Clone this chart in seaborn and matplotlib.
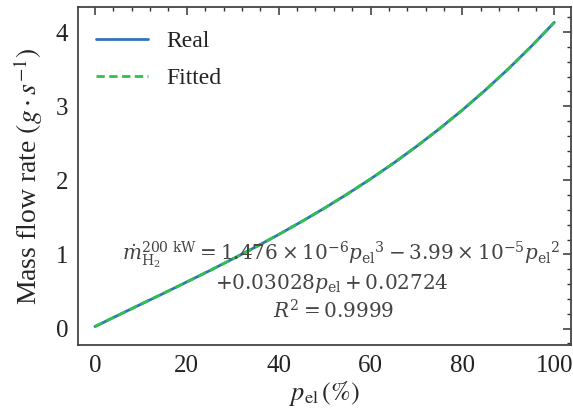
import numpy as np
import pandas as pd
import matplotlib
matplotlib.use("Agg")
import matplotlib.pyplot as plt
import seaborn as sns
from matplotlib.ticker import MultipleLocator

# Data
p_el = [0, 5, 10, 15, 20, 25, 30, 35, 40, 45, 50, 55, 60, 65, 70, 75, 80, 85, 90, 95, 100]
real = [0.027, 0.178, 0.328, 0.477, 0.629, 0.782, 0.940, 1.101, 1.269, 1.444, 1.626,
        1.818, 2.019, 2.232, 2.458, 2.697, 2.950, 3.219, 3.505, 3.809, 4.132]
fitted = [0.027, 0.178, 0.328, 0.477, 0.629, 0.782, 0.940, 1.101, 1.269, 1.444, 1.626,
          1.818, 2.019, 2.232, 2.458, 2.697, 2.950, 3.219, 3.505, 3.809, 4.132]

sns.set_theme(style="white")
plt.rcParams['font.family'] = ['Liberation Serif', 'DejaVu Serif']
plt.rcParams['mathtext.fontset'] = 'stix'

fig = plt.figure(figsize=(5.73, 4.12), dpi=100)
ax = fig.add_axes([0.136, 0.163, 0.861, 0.820])

df = pd.DataFrame({"p": p_el * 2, "v": real + fitted,
                   "s": ["Real"] * len(p_el) + ["Fitted"] * len(p_el)})
sns.lineplot(data=df[df.s == "Real"], x="p", y="v", ax=ax, color="#3274b8",
             lw=2.0, label="Real")
sns.lineplot(data=df[df.s == "Fitted"], x="p", y="v", ax=ax, color="#2dc24a",
             lw=2.0, ls=(0, (3, 1.6)), label="Fitted")

ax.set_xlim(-3.7, 103.7)
ax.set_ylim(-0.22, 4.34)
ax.xaxis.set_major_locator(MultipleLocator(20))
ax.xaxis.set_minor_locator(MultipleLocator(4))
ax.yaxis.set_major_locator(MultipleLocator(1))
ax.yaxis.set_minor_locator(MultipleLocator(0.2))
ax.tick_params(which='both', direction='in', top=True, right=True, colors='#333333',
               labelcolor='#222222', labelsize=18)
ax.tick_params(which='major', length=6, width=1.1, pad=7)
ax.tick_params(which='minor', length=3, width=1.0)
for s in ax.spines.values():
    s.set_color('#444444')
    s.set_linewidth(1.3)

ax.set_xlabel(r"$p_{\mathrm{el}}\,(\%)$", fontsize=19, labelpad=2)
ax.set_ylabel(r"Mass flow rate $(g\cdot s^{-1})$", fontsize=20, labelpad=8)

leg = ax.legend(loc='upper left', bbox_to_anchor=(-0.012, 1.0), frameon=False,
                fontsize=17, handlelength=2.2, borderaxespad=0.6, labelspacing=0.65,
                handletextpad=0.8)
for t in leg.get_texts():
    t.set_color('#222222')

tc = '#444444'
kw = dict(ha='center', va='center', fontsize=14.4, color=tc, math_fontfamily='dejavuserif')
ax.text(53.5, 0.99, r"$\dot{m}_{\mathrm{H_2}}^{200\ \mathrm{kW}} = 1.476\times10^{-6}{p_{\mathrm{el}}}^{3} - 3.99\times10^{-5}{p_{\mathrm{el}}}^{2}$", **kw)
ax.text(51.5, 0.61, r"$+0.03028p_{\mathrm{el}} + 0.02724$", **kw)
ax.text(52, 0.22, r"$R^2 = 0.9999$", **kw)

fig.savefig("out.png", dpi=100)
